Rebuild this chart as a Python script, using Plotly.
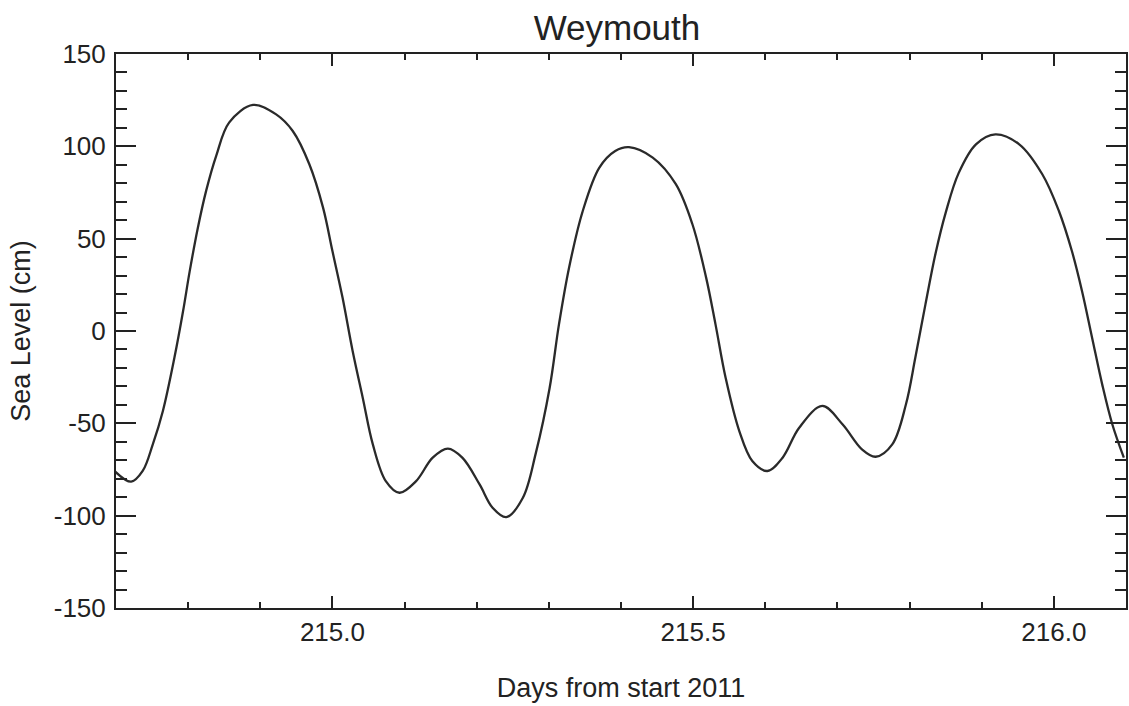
import plotly.graph_objects as go

days = [214.698, 214.721, 214.737, 214.751, 214.765, 214.781, 214.793, 214.802, 214.813, 214.825,
        214.839, 214.857, 214.890, 214.922, 214.945, 214.968, 214.987, 215.000, 215.014, 215.028,
        215.042, 215.056, 215.074, 215.093, 215.116, 215.139, 215.160, 215.180, 215.204, 215.222,
        215.241, 215.264, 215.282, 215.301, 215.314, 215.328, 215.347, 215.370, 215.392, 215.411,
        215.444, 215.476, 215.499, 215.518, 215.531, 215.545, 215.564, 215.582, 215.603, 215.624,
        215.647, 215.679, 215.707, 215.734, 215.753, 215.776, 215.795, 215.808, 215.822, 215.836,
        215.850, 215.868, 215.892, 215.919, 215.952, 215.984, 216.007, 216.025, 216.039, 216.053,
        216.067, 216.081, 216.097]
sea_level = [-75.8, -81.6, -75.8, -61.4, -43.3, -14.4, 10.8, 32.0, 55.0, 76.0,
             95.0, 113.0, 122.4, 117.3, 108.3, 90.3, 66.8, 43.3, 18.1, -10.8,
             -36.1, -61.4, -81.3, -87.6, -81.3, -68.6, -63.7, -68.6, -83.1, -95.7,
             -100.8, -90.3, -66.0, -31.0, 3.6, 34.3, 65.0, 88.5, 97.5, 99.6,
             93.9, 79.5, 57.8, 28.9, 3.6, -25.3, -54.2, -70.4, -75.8, -68.6,
             -52.4, -40.6, -50.5, -64.1, -68.1, -61.4, -39.7, -14.4, 14.4, 42.0,
             64.0, 85.5, 101.1, 106.5, 101.1, 84.9, 65.0, 43.3, 21.7, -3.6,
             -28.9, -50.5, -68.6]

x_ticks = [215.0, 215.5, 216.0]
x_labels = ["215.0", "215.5", "216.0"]
y_ticks = [-150, -100, -50, 0, 50, 100, 150]
y_labels = ["-150", "-100", "-50", "0", "50", "100", "150"]

FONT = "Liberation Sans, Arial, sans-serif"
INK = "#222222"

fig = go.Figure()
fig.add_trace(go.Scatter(x=days, y=sea_level, mode="lines",
                         line=dict(color="#2a2a2a", width=2.3, shape="spline", smoothing=1.0),
                         showlegend=False, hoverinfo="skip"))

fig.update_layout(
    width=1129, height=706,
    margin=dict(l=116, r=3, t=54, b=98),
    paper_bgcolor="white", plot_bgcolor="white",
    font=dict(family=FONT, color=INK),
    title=dict(text="Weymouth", x=0.496, xref="paper", xanchor="center",
               y=1 - 28 / 706, yref="container", yanchor="middle",
               font=dict(size=35, color=INK, family=FONT)),
)
fig.update_xaxes(
    range=[214.7, 216.1], tickvals=x_ticks, ticktext=x_labels,
    ticks="inside", ticklen=12, tickwidth=2, tickcolor=INK,
    showline=True, linecolor=INK, linewidth=2, mirror="ticks",
    showgrid=False, zeroline=False, automargin=False,
    tickfont=dict(size=26, color=INK, family=FONT),
    minor=dict(dtick=0.1, tick0=215.0, ticks="inside", ticklen=6, tickwidth=2, tickcolor=INK, showgrid=False),
    title=dict(text="Days from start 2011", font=dict(size=27, color=INK, family=FONT), standoff=32),
)
fig.update_yaxes(
    range=[-150, 150], tickvals=y_ticks, ticktext=y_labels,
    ticks="inside", ticklen=20, tickwidth=2, tickcolor=INK,
    showline=True, linecolor=INK, linewidth=2, mirror="ticks",
    showgrid=False, zeroline=False, automargin=False,
    ticklabelstandoff=3,
    tickfont=dict(size=26, color=INK, family=FONT),
    minor=dict(dtick=10, tick0=0, ticks="inside", ticklen=11, tickwidth=2, tickcolor=INK, showgrid=False),
    title=dict(text="Sea Level (cm)", font=dict(size=27, color=INK, family=FONT), standoff=15),
)

fig.write_html("out.html",
               config={"displayModeBar": False},
               post_script="document.body.style.margin='0';document.body.style.overflow='hidden';")
